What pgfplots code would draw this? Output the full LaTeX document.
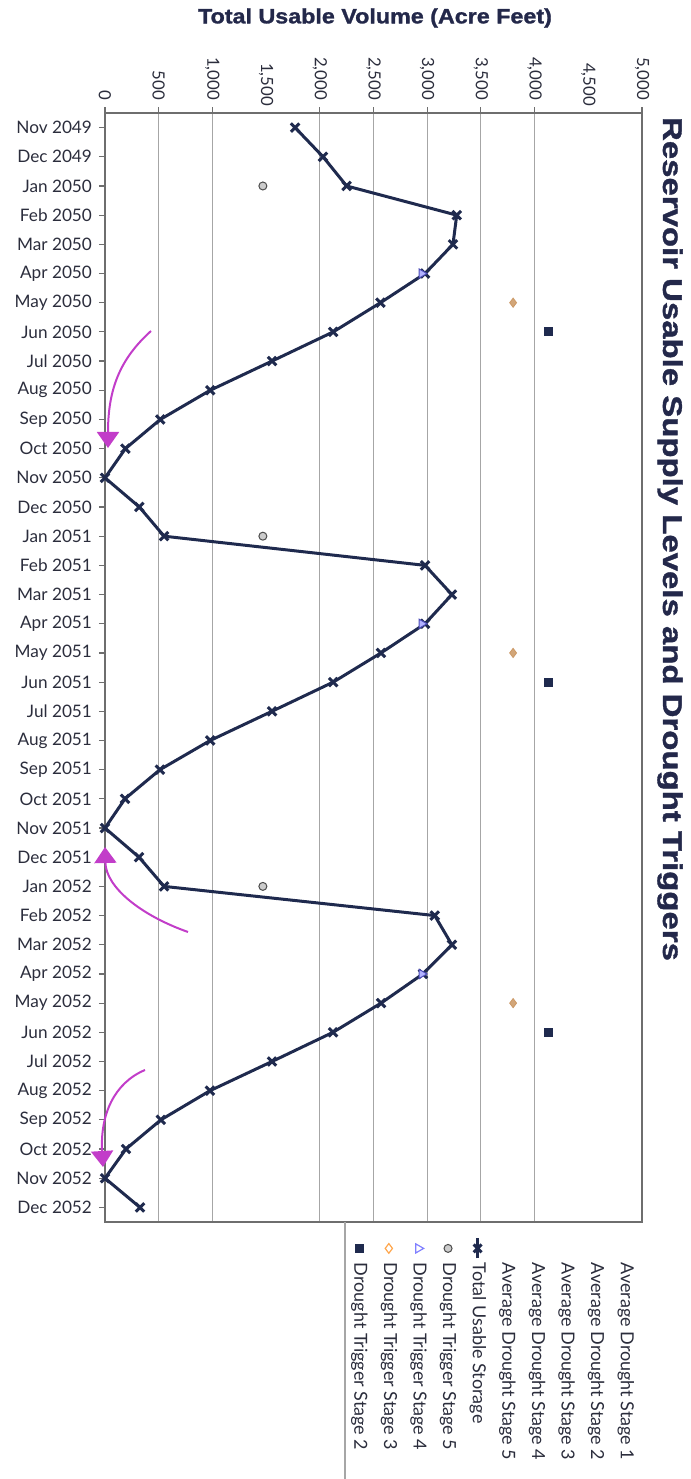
\documentclass[border=0pt]{standalone}
\usepackage{pgfplots}
\pgfplotsset{compat=1.18}
\usepackage{pgfplotstable}
\usepackage{fontspec}
\setmainfont{Lato}
\newfontfamily\titlefont[FakeStretch=1.22, FakeBold=1.3]{Liberation Sans}
\newfontfamily\labfont[FakeStretch=1.12, FakeBold=1.3]{Liberation Sans}
\usetikzlibrary{arrows.meta}
\definecolor{navy}{HTML}{1F2A4E}
\definecolor{titlec}{HTML}{23284A}
\definecolor{gridc}{HTML}{A6A6A6}
\definecolor{framec}{HTML}{6E6E6E}
\definecolor{magent}{HTML}{C23DC9}
\definecolor{txt}{HTML}{2B2D3C}
\pgfplotsset{
  singlemark legend/.style={legend image code/.code={\draw[##1, overlay] plot coordinates {(4.4pt,7pt)};}},
  vline legend/.style={legend image code/.code={\draw[##1, overlay, mark indices={2}] plot coordinates {(4.4pt,2pt)(4.4pt,7pt)(4.4pt,12pt)};}},
  blank legend/.style={legend image code/.code={}},
}
\pgfplotstableread{
i v
0 1770
1 2030
2 2250
3 3275
4 3240
5 2980
6 2565
7 2125
8 1555
9 980
10 515
11 190
12 0
13 320
14 550
15 2980
16 3230
17 2980
18 2570
19 2125
20 1555
21 980
22 512
23 186
24 0
25 317
26 550
27 3070
28 3230
29 2960
30 2570
31 2123
32 1555
33 978
34 520
35 195
36 0
37 326
}\storage
\pgfplotstableread{
i v
2 1470
14 1470
26 1470
}\stagefive
\pgfplotstableread{
i v
5 2950
17 2950
29 2950
}\stagefour
\pgfplotstableread{
i v
6 3800
18 3800
30 3800
}\stagethree
\pgfplotstableread{
i v
7 4125
19 4125
31 4125
}\stagetwo
\begin{document}
\begin{tikzpicture}
\path[use as bounding box] (0,0) rectangle (345.5pt,739.5pt);
\begin{axis}[
  at={(52.5pt,128.5pt)}, anchor=south west,
  width=268.5pt, height=554.5pt, scale only axis,
  xmin=0, xmax=5000, ymin=-0.5, ymax=37.5, y dir=reverse,
  xtick={0,500,1000,2000,2500,3000,3500,4000,5000},
  extra x ticks={1500,4500},
  extra x tick style={grid=none, major tick length=0pt},
  xtick pos=right, xticklabel pos=right,
  ytick={0,...,37},
  yticklabels={Nov 2049,Dec 2049,Jan 2050,Feb 2050,Mar 2050,Apr 2050,May 2050,Jun 2050,Jul 2050,Aug 2050,Sep 2050,Oct 2050,Nov 2050,Dec 2050,Jan 2051,Feb 2051,Mar 2051,Apr 2051,May 2051,Jun 2051,Jul 2051,Aug 2051,Sep 2051,Oct 2051,Nov 2051,Dec 2051,Jan 2052,Feb 2052,Mar 2052,Apr 2052,May 2052,Jun 2052,Jul 2052,Aug 2052,Sep 2052,Oct 2052,Nov 2052,Dec 2052},
  ytick pos=left, tick align=outside, major tick length=3pt,
  xmajorgrids, grid style={gridc, line width=0.6pt},
  axis line style={framec, line width=0.7pt},
  tick style={framec, line width=0.6pt},
  xticklabel style={rotate=-90, anchor=east, font=\fontsize{8.4}{9}\selectfont, text=txt},
  yticklabel style={font=\fontsize{8.6}{10}\selectfont, text=txt},
  /pgf/number format/1000 sep={,},
  /pgf/number format/assume math mode=true,
  legend columns=-1,
  legend style={at={(0.447,0)}, anchor=north west, draw=none, fill=none,
    font=\fontsize{9.0}{11}\selectfont, text=txt,
    inner xsep=2.5pt, inner ysep=20pt,
    nodes={rotate=-90, inner sep=0pt, text height=6.8pt, text depth=2pt},
    cells={anchor=west},
    /tikz/every odd column/.style={column sep=0pt},
    /tikz/every even column/.style={column sep=6pt}},
]
\addplot[navy, line width=1.5pt, mark=x, mark size=3pt, mark options={line width=1.5pt}, forget plot] table[x=v, y=i] {\storage};
\addplot[only marks, mark=*, mark size=2pt, mark options={fill=gray!40, draw=black!70, line width=0.5pt}, forget plot] table[x=v, y=i] {\stagefive};
\addplot[only marks, mark=triangle*, mark size=2.6pt, mark options={rotate=-90, fill=blue!30!white, draw=blue!60!black!70, line width=0.5pt}, forget plot] table[x=v, y=i] {\stagefour};
\addplot[only marks, mark=diamond*, mark size=2.3pt, mark options={fill=brown!70!white, draw=brown!80!white, line width=0.4pt}, forget plot] table[x=v, y=i] {\stagethree};
\addplot[only marks, mark=square*, mark size=2pt, mark options={fill=navy, draw=navy}, forget plot] table[x=v, y=i] {\stagetwo};

\addlegendimage{only marks, mark=square*, mark size=2pt, mark options={fill=navy, draw=navy}, singlemark legend}\addlegendentry{Drought Trigger Stage 2}
\addlegendimage{only marks, mark=diamond, mark size=2.4pt, mark options={draw=orange!70!white, fill=orange!10!white, line width=0.6pt}, singlemark legend}\addlegendentry{Drought Trigger Stage 3}
\addlegendimage{only marks, mark=triangle, mark size=2.6pt, mark options={rotate=-90, draw=blue!50!white, line width=0.6pt}, singlemark legend}\addlegendentry{Drought Trigger Stage 4}
\addlegendimage{only marks, mark=*, mark size=2pt, mark options={fill=gray!40, draw=black!70, line width=0.5pt}, singlemark legend}\addlegendentry{Drought Trigger Stage 5}
\addlegendimage{navy, line width=1.5pt, mark=x, mark size=2.8pt, mark options={line width=1.5pt}, vline legend}\addlegendentry{Total Usable Storage}
\addlegendimage{blank legend}\addlegendentry{Average Drought Stage 5}
\addlegendimage{blank legend}\addlegendentry{Average Drought Stage 4}
\addlegendimage{blank legend}\addlegendentry{Average Drought Stage 3}
\addlegendimage{blank legend}\addlegendentry{Average Drought Stage 2}
\addlegendimage{blank legend}\addlegendentry{Average Drought Stage 1}
\end{axis}
\draw[gridc, line width=0.6pt] (172.5pt,128.5pt) -- (172.5pt,0pt);
\node[text=titlec, font=\labfont\bfseries\fontsize{10.4}{12}\selectfont] at (187.5pt,730.5pt) {Total Usable Volume (Acre Feet)};
\node[rotate=-90, text=titlec, font=\titlefont\bfseries\fontsize{13.5}{15}\selectfont] at (335pt,470pt) {Reservoir Usable Supply Levels and Drought Triggers};
\draw[magent, line width=1pt, -{Triangle[length=8pt,width=11pt]}] (75.5pt,574pt) .. controls (60pt,560pt) and (54pt,545pt) .. (54pt,515.5pt);
\draw[magent, line width=1pt, -{Triangle[length=8pt,width=11pt]}] (94pt,273.5pt) .. controls (70pt,282pt) and (53pt,296pt) .. (52.5pt,316pt);
\draw[magent, line width=1pt, -{Triangle[length=8pt,width=11pt]}] (72.5pt,204.5pt) .. controls (57pt,198pt) and (50pt,182pt) .. (51.5pt,156pt);
\end{tikzpicture}
\end{document}
